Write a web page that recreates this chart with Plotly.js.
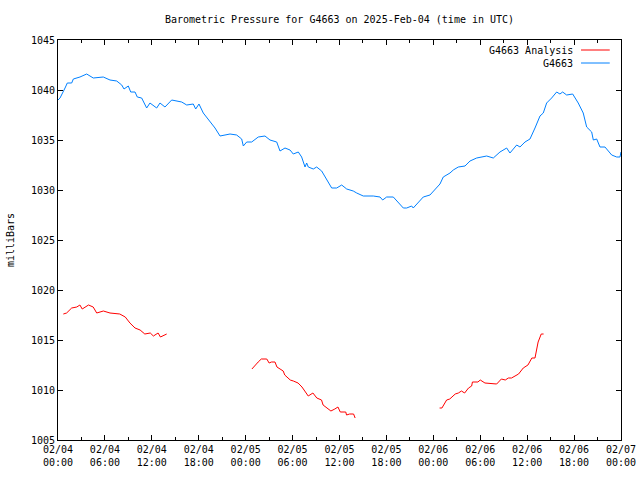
<!DOCTYPE html>
<html>
<head>
<meta charset="utf-8">
<script src="https://cdn.plot.ly/plotly-3.0.1.min.js"></script>
<style>html,body{margin:0;padding:0;background:#fff}#chart{width:640px;height:480px}</style>
</head>
<body>
<div id="chart"></div>
<script>
// hours since 2025-02-04 00:00 UTC
const stationHours = [0,0.26,0.9,1.19,1.75,1.96,2.81,3.67,4.51,5.79,6.65,7.51,8.15,8.44,8.99,9.3,9.85,10.14,10.7,11.34,11.76,12.62,13.04,13.68,14.54,15.82,16.46,17.3,17.61,18.03,18.58,19.44,20.08,20.72,22.0,22.85,23.49,23.7,24.13,24.77,25.61,26.47,27.11,27.97,28.39,29.03,29.67,30.09,30.73,31.16,31.59,31.8,32.01,32.65,33.08,33.72,34.14,34.57,35.0,35.64,36.28,36.92,37.76,38.2,39.04,40.32,41.18,41.52,42.03,42.88,43.52,44.16,44.59,45.23,45.43,46.07,46.71,47.57,48.21,48.85,49.27,50.13,50.55,51.19,52.05,52.69,53.54,54.82,55.67,56.52,57.38,57.8,58.66,59.08,59.72,60.36,61.0,61.64,62.06,62.49,63.13,63.77,64.19,64.54,65.05,65.82,66.53,67.17,67.61,68.25,68.46,68.89,69.31,69.95,70.81,71.45,71.87,72.0];
const stationPressure = [1039.0,1039.2,1040.2,1040.7,1040.7,1041.1,1041.3,1041.6,1041.2,1041.3,1041.0,1040.9,1040.5,1040.1,1040.4,1039.8,1039.8,1039.3,1039.2,1038.2,1038.7,1038.2,1038.7,1038.3,1039.0,1038.8,1038.5,1038.6,1038.1,1038.6,1037.7,1036.8,1036.2,1035.4,1035.6,1035.5,1035.1,1034.4,1034.8,1034.8,1035.3,1035.4,1035.0,1034.8,1033.9,1034.2,1034.0,1033.6,1033.8,1033.3,1032.3,1032.7,1032.3,1032.1,1032.3,1031.9,1031.3,1030.7,1030.2,1030.2,1030.5,1030.1,1029.9,1029.7,1029.4,1029.4,1029.3,1029.0,1029.3,1029.3,1028.8,1028.2,1028.2,1028.4,1028.2,1028.7,1029.3,1029.5,1030.0,1030.6,1031.3,1031.7,1032.0,1032.3,1032.4,1032.9,1033.2,1033.4,1033.2,1033.8,1034.2,1033.7,1034.5,1034.3,1034.8,1035.1,1036.2,1037.4,1037.7,1038.7,1039.2,1039.8,1039.6,1039.8,1039.5,1039.6,1038.7,1037.7,1036.3,1035.8,1035.0,1035.1,1034.3,1034.3,1033.5,1033.3,1033.3,1033.8];

const analysisHours = [0.68,1.1,1.75,2.4,2.8,3.1,3.9,4.5,4.95,5.8,6.65,7.9,8.6,9.2,9.85,10.5,11.1,11.8,12.2,12.8,13.1,13.9,
  19,
  24.8,25.0,25.6,26.0,26.7,27.0,27.3,27.75,28.0,28.4,28.8,29.0,29.7,30.1,30.7,31.2,31.8,32.0,32.6,33.1,33.7,33.9,34.4,34.9,35.4,35.8,36.1,36.8,36.9,37.3,37.8,38.0,
  43,
  48.8,49.1,49.7,50.1,50.8,51.2,51.6,52.0,52.5,52.9,53.0,53.7,54.0,54.6,56.1,56.7,57.2,57.6,58.0,58.4,58.9,59.5,60.1,60.6,61.0,61.2,61.4,61.8,62.1];
const analysisPressure = [1017.6,1017.7,1018.2,1018.3,1018.5,1018.1,1018.5,1018.3,1017.7,1017.9,1017.7,1017.6,1017.3,1016.7,1016.2,1016.0,1015.6,1015.7,1015.4,1015.7,1015.3,1015.6,
  null,
  1012.1,1012.3,1012.8,1013.1,1013.1,1012.7,1012.8,1012.8,1012.3,1012.1,1011.9,1011.5,1011.0,1010.9,1010.7,1010.3,1009.7,1009.4,1009.7,1009.2,1009.0,1008.5,1008.2,1007.9,1008.1,1008.3,1007.8,1007.8,1007.5,1007.6,1007.6,1007.2,
  null,
  1008.2,1008.2,1009.0,1009.1,1009.6,1009.7,1009.9,1009.7,1010.2,1010.4,1010.8,1010.8,1011.0,1010.7,1010.6,1011.1,1011.0,1011.2,1011.2,1011.4,1011.6,1012.2,1012.5,1013.2,1013.2,1014.0,1014.8,1015.6,1015.6];

const xTickVals = [0,6,12,18,24,30,36,42,48,54,60,66,72];
const xTickText = ["02/04<br>00:00","02/04<br>06:00","02/04<br>12:00","02/04<br>18:00","02/05<br>00:00","02/05<br>06:00","02/05<br>12:00","02/05<br>18:00","02/06<br>00:00","02/06<br>06:00","02/06<br>12:00","02/06<br>18:00","02/07<br>00:00"];
const yTickVals = [1005,1010,1015,1020,1025,1030,1035,1040,1045];
const seriesNames = ["G4663 Analysis","G4663"];
const seriesColors = ["#ff0000","#0080ff"];

const FONT = {family:"DejaVu Sans Mono, Liberation Mono, monospace", size:10, color:"#000"};

const traces = [
  {x: analysisHours, y: analysisPressure, type:"scatter", mode:"lines", name:seriesNames[0],
   line:{color:seriesColors[0], width:1}, connectgaps:false, showlegend:false},
  {x: stationHours, y: stationPressure, type:"scatter", mode:"lines", name:seriesNames[1],
   line:{color:seriesColors[1], width:1}, showlegend:false}
];

const legX = 0.918, legLine0 = 0.929, legLine1 = 0.980;
const legY = [0.975, 0.9425];

const layout = {
  width:640, height:480,
  margin:{l:58, r:19, t:40, b:40, pad:0},
  paper_bgcolor:"#fff", plot_bgcolor:"#fff",
  font: FONT,
  showlegend:false,
  title:{text:"Barometric Pressure for G4663 on 2025-Feb-04 (time in UTC)", font:FONT,
         x:0.5, xref:"paper", y:1-19/480, yref:"container", yanchor:"middle"},
  xaxis:{range:[0,72], tickvals:xTickVals, ticktext:xTickText, ticks:"inside", ticklen:5,
         tickcolor:"#000", showline:true, linecolor:"#000", linewidth:1, mirror:"allticks",
         showgrid:false, zeroline:false, tickfont:FONT,
         minor:{dtick:3, tick0:0, ticks:"inside", ticklen:3, tickcolor:"#000", showgrid:false}},
  yaxis:{range:[1005,1045], tickvals:yTickVals, ticks:"inside", ticklen:5,
         tickcolor:"#000", showline:true, linecolor:"#000", linewidth:1, mirror:"allticks",
         showgrid:false, zeroline:false, tickfont:FONT,
         title:{text:"milliBars", font:FONT, standoff:14}},
  annotations: seriesNames.map((n,i)=>({text:n, xref:"paper", yref:"paper", x:legX, y:legY[i],
      xanchor:"right", yanchor:"middle", showarrow:false, font:FONT})),
  shapes: seriesNames.map((n,i)=>({type:"line", xref:"paper", yref:"paper", x0:legLine0, x1:legLine1,
      y0:legY[i], y1:legY[i], line:{color:seriesColors[i], width:1}}))
};

Plotly.newPlot("chart", traces, layout, {displayModeBar:false, staticPlot:true});
</script>
</body>
</html>
